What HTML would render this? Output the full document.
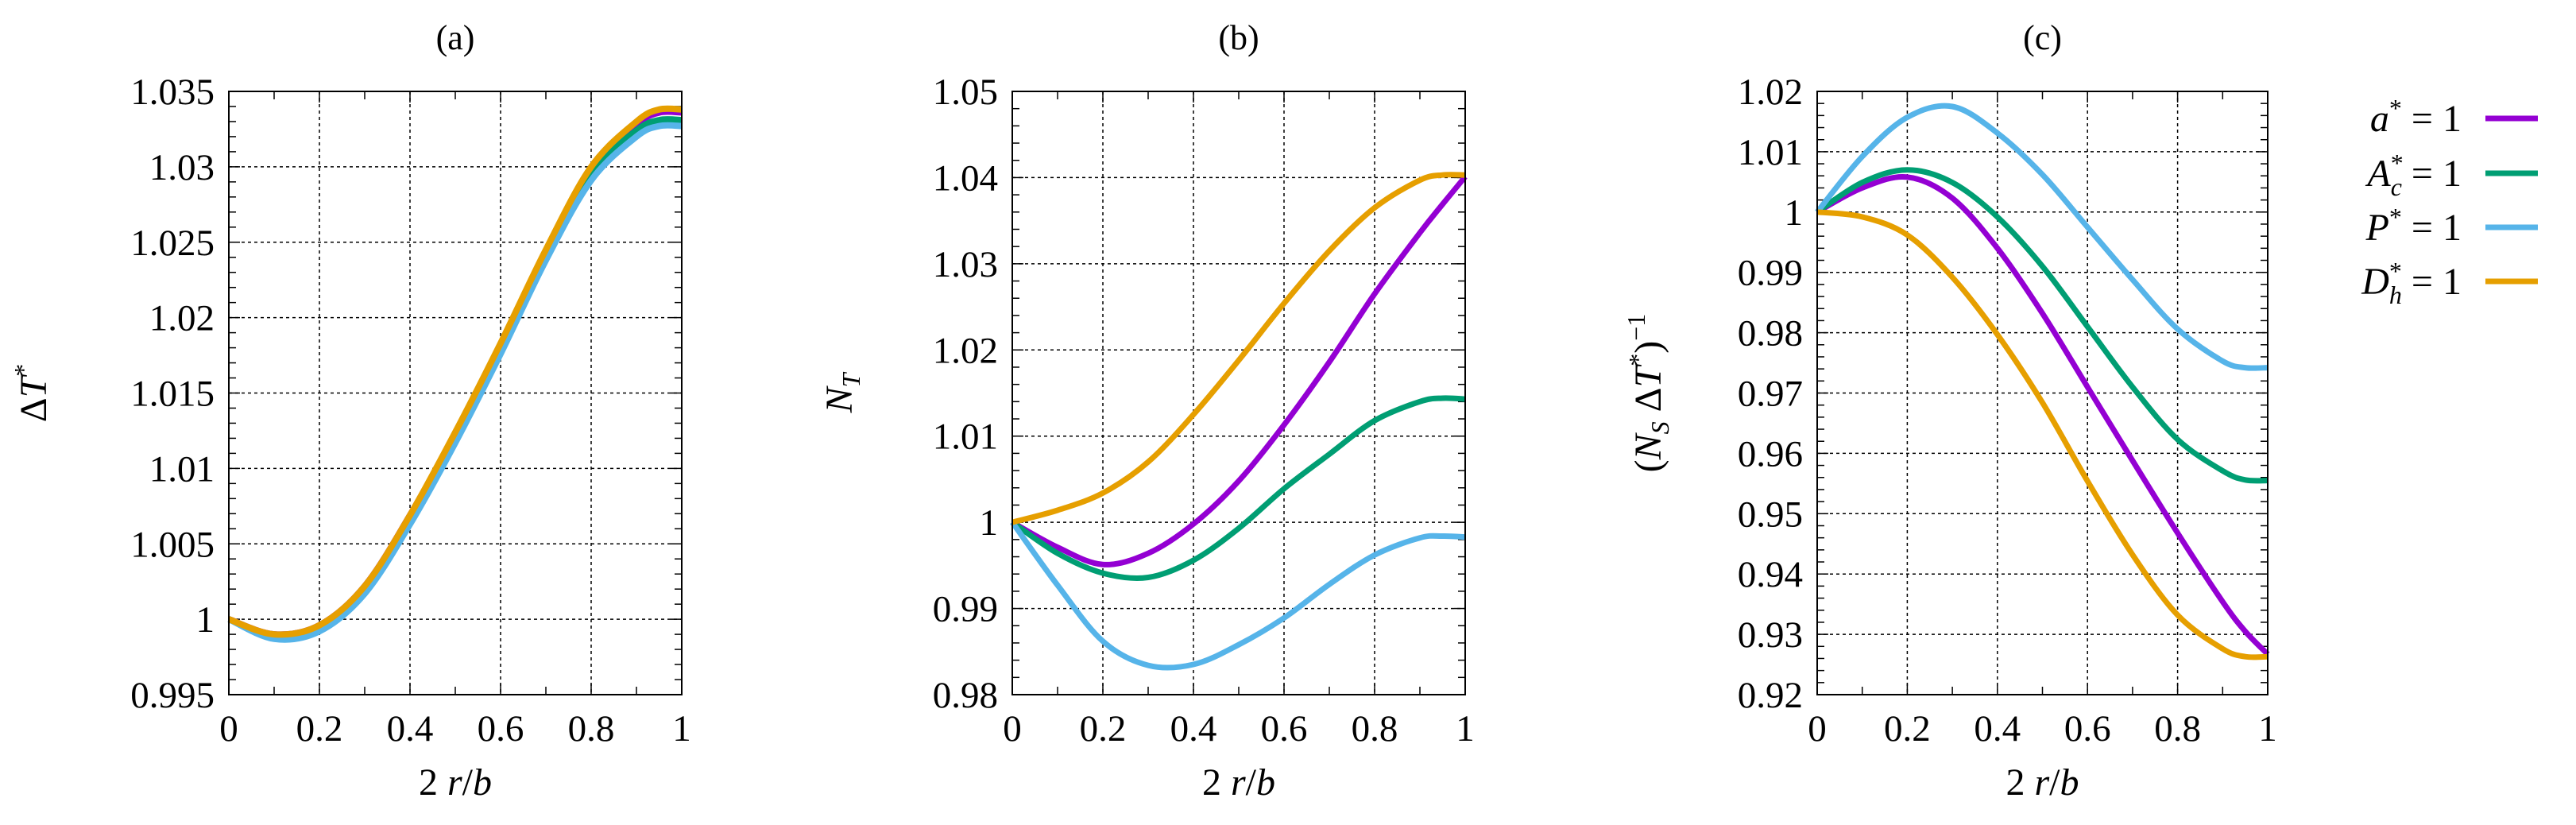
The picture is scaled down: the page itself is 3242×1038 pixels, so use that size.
<!DOCTYPE html>
<html><head><meta charset="utf-8"><style>
html,body{margin:0;padding:0;background:#fff;}
svg, svg text{font-family:"Liberation Serif","DejaVu Serif",serif;}
</style></head><body>
<svg id="fig" width="3242" height="1033" viewBox="0 0 3242 1033" xmlns="http://www.w3.org/2000/svg" font-family="Liberation Serif, DejaVu Serif, serif"></svg>
<script>
const xs = [0,0.1,0.2,0.3,0.4,0.5,0.6,0.7,0.8,0.9,0.95,1];
const seriesNames = ['a-star','Ac-star','P-star','Dh-star'];
const colors = ['#9400d3','#009e73','#56b4e9','#e69f00'];
const aPurple = [1,0.9990,0.9996,1.0022,1.0069,1.0123,1.0182,1.0244,1.0298,1.0328,1.0336,1.0336];
const aGreen  = [1,0.9989,0.9995,1.0021,1.0068,1.0122,1.0181,1.0242,1.0296,1.0324,1.0331,1.0331];
const aBlue   = [1,0.9987,0.9992,1.0017,1.0063,1.0117,1.0176,1.0238,1.0291,1.0320,1.0327,1.0327];
const aOrange = [1,0.9990,0.9996,1.0022,1.0069,1.0124,1.0183,1.0245,1.0300,1.0330,1.0338,1.0338];
const bPurple = [1,0.9971,0.9951,0.9964,0.9998,1.0048,1.0113,1.0186,1.0265,1.0336,1.0369,1.0401];
const bGreen  = [1,0.9964,0.9941,0.9936,0.9956,0.9993,1.0039,1.0079,1.0118,1.0140,1.0144,1.0143];
const bBlue   = [1,0.9927,0.9862,0.9834,0.9835,0.9858,0.9889,0.9928,0.9962,0.9982,0.9984,0.9983];
const bOrange = [1,1.0014,1.0034,1.0070,1.0125,1.0188,1.0254,1.0315,1.0365,1.0397,1.0403,1.0403];
const cPurple = [1,1.0040,1.0058,1.0023,0.9940,0.9832,0.9710,0.9588,0.9468,0.9354,0.9305,0.9267];
const cGreen  = [1,1.0049,1.0070,1.0049,0.9992,0.9910,0.9810,0.9710,0.9623,0.9571,0.9556,0.9555];
const cBlue   = [1,1.0092,1.0157,1.0175,1.0131,1.0062,0.9975,0.9888,0.9806,0.9753,0.9742,0.9742];
const cOrange = [1,0.9992,0.9962,0.9892,0.9797,0.9684,0.9554,0.9432,0.9332,0.9276,0.9263,0.9263];
const xTicks = ['0','0.2','0.4','0.6','0.8','1'];
const aYTicks = ['0.995','1','1.005','1.01','1.015','1.02','1.025','1.03','1.035'];
const bYTicks = ['0.98','0.99','1','1.01','1.02','1.03','1.04','1.05'];
const cYTicks = ['0.92','0.93','0.94','0.95','0.96','0.97','0.98','0.99','1','1.01','1.02'];

const NS='http://www.w3.org/2000/svg';
const svg=document.getElementById('fig');
const FF='Liberation Serif, DejaVu Serif, serif';
function mk(tag,attrs,parent){const e=document.createElementNS(NS,tag);for(const k in attrs)e.setAttribute(k,attrs[k]);if(tag==='text')e.setAttribute('font-family',FF);(parent||svg).appendChild(e);return e;}

const panels=[
 {id:'a',L:288,R:858,ymin:0.995,ymax:1.035,yt:aYTicks,data:[aPurple,aGreen,aBlue,aOrange],lw:8,ylabX:58,ylab:'dT'},
 {id:'b',L:1274,R:1844,ymin:0.98,ymax:1.05,yt:bYTicks,data:[bPurple,bGreen,bBlue,bOrange],lw:7,ylabX:1072,ylab:'NT'},
 {id:'c',L:2287,R:2854,ymin:0.92,ymax:1.02,yt:cYTicks,data:[cPurple,cGreen,cBlue,cOrange],lw:7,ylabX:2090,ylab:'NS'}
];
const T=115,B=874;

function pathFrom(pts){
  let d='M'+pts[0][0].toFixed(1)+','+pts[0][1].toFixed(1);
  for(let i=0;i<pts.length-1;i++){
    const p0=pts[Math.max(0,i-1)],p1=pts[i],p2=pts[i+1],p3=pts[Math.min(pts.length-1,i+2)];
    const c1x=p1[0]+(p2[0]-p0[0])/6,c1y=p1[1]+(p2[1]-p0[1])/6;
    const c2x=p2[0]-(p3[0]-p1[0])/6,c2y=p2[1]-(p3[1]-p1[1])/6;
    d+=' C'+c1x.toFixed(1)+','+c1y.toFixed(1)+' '+c2x.toFixed(1)+','+c2y.toFixed(1)+' '+p2[0].toFixed(1)+','+p2[1].toFixed(1);
  }
  return d;
}

panels.forEach(p=>{
  const g=mk('g',{});
  
  
  const X=v=>p.L+v*(p.R-p.L);
  const Y=v=>B-(v-p.ymin)/(p.ymax-p.ymin)*(B-T);
  const nY=p.yt.length-1, stepY=(p.ymax-p.ymin)/nY;
  xTicks.forEach((t,i)=>{
    const x=X(i/(xTicks.length-1));
    if(i>0&&i<xTicks.length-1){const l=mk('line',{x1:x,x2:x,y1:T,y2:B,stroke:'#000','stroke-width':1.5,'stroke-dasharray':'4,4'},g);
      }
    const tx=mk('text',{x:x,y:932,'font-size':47,'text-anchor':'middle'},g);tx.textContent=t;
    
  });
  for(let i=0;i<10;i++){const x=X(i/10);const len=(i%2==0)?14:10;
    mk('line',{x1:x,x2:x,y1:B,y2:B-len,stroke:'#000','stroke-width':1.5},g);
    mk('line',{x1:x,x2:x,y1:T,y2:T+len,stroke:'#000','stroke-width':1.5},g);}
  p.yt.forEach((t,i)=>{
    const v=p.ymin+i*stepY,y=Y(v);
    if(i>0&&i<nY){const l=mk('line',{x1:p.L,x2:p.R,y1:y,y2:y,stroke:'#000','stroke-width':1.5,'stroke-dasharray':'4,4'},g);
      }
    const tx=mk('text',{x:p.L-18,y:y+16,'font-size':47,'text-anchor':'end'},g);tx.textContent=t;
    
  });
  for(let i=0;i<nY*5;i++){const y=Y(p.ymin+i*stepY/5);const len=(i%5==0)?14:9;
    mk('line',{x1:p.L,x2:p.L+len,y1:y,y2:y,stroke:'#000','stroke-width':1.5},g);
    mk('line',{x1:p.R,x2:p.R-len,y1:y,y2:y,stroke:'#000','stroke-width':1.5},g);}
  p.data.forEach((arr,si)=>{
    const pts=xs.map((x,i)=>[X(x),Y(arr[i])]);
    const path=mk('path',{d:pathFrom(pts),fill:'none',stroke:colors[si],'stroke-width':p.lw,'stroke-linejoin':'round'},g);
    
    
  });
  const fr=mk('rect',{x:p.L,y:T,width:p.R-p.L,height:B-T,fill:'none',stroke:'#000','stroke-width':2},g);
  
  const ttl=mk('text',{x:(p.L+p.R)/2,y:62,'font-size':44,'text-anchor':'middle'},g);ttl.textContent='('+p.id+')';
  
  const xl=mk('text',{x:(p.L+p.R)/2,y:1000,'font-size':48,'text-anchor':'middle'},g);
  xl.innerHTML='2 <tspan font-style="italic">r</tspan>/<tspan font-style="italic">b</tspan>';
  
  const yl=mk('text',{x:p.ylabX,y:(T+B)/2,'font-size':48,'text-anchor':'middle',transform:'rotate(-90 '+p.ylabX+' '+((T+B)/2)+')'},g);
  if(p.ylab==='dT') yl.innerHTML='Δ<tspan font-style="italic">T</tspan><tspan dy="-18" font-size="32">*</tspan>';
  else if(p.ylab==='NT') yl.innerHTML='<tspan font-style="italic">N</tspan><tspan dy="10" font-size="32" font-style="italic">T</tspan>';
  else yl.innerHTML='(<tspan font-style="italic">N</tspan><tspan dy="10" font-size="32" font-style="italic">S</tspan><tspan dy="-10"> Δ</tspan><tspan font-style="italic">T</tspan><tspan dy="-18" font-size="32">*</tspan><tspan dy="18">)</tspan><tspan dy="-20" font-size="32">−1</tspan>';
  
});

const legY=[149,218,286,354];
const legHtml=['<tspan font-style="italic">a</tspan><tspan dy="-18" font-size="32">*</tspan><tspan dy="18"> = 1</tspan>',
 '<tspan font-style="italic">A</tspan><tspan dy="-18" font-size="32">*</tspan><tspan dx="-16" dy="30" font-size="32" font-style="italic">c</tspan><tspan dy="-12"> = 1</tspan>',
 '<tspan font-style="italic">P</tspan><tspan dy="-18" font-size="32">*</tspan><tspan dy="18"> = 1</tspan>',
 '<tspan font-style="italic">D</tspan><tspan dy="-18" font-size="32">*</tspan><tspan dx="-16" dy="30" font-size="32" font-style="italic">h</tspan><tspan dy="-12"> = 1</tspan>'];
legY.forEach((y,i)=>{
  const g=mk('g',{});
  
  
  const t=mk('text',{x:3098,y:y+16,'font-size':48,'text-anchor':'end'},g);t.innerHTML=legHtml[i];
  mk('line',{x1:3128,x2:3194,y1:y,y2:y,stroke:colors[i],'stroke-width':7},g);
});
</script>
</body></html>
